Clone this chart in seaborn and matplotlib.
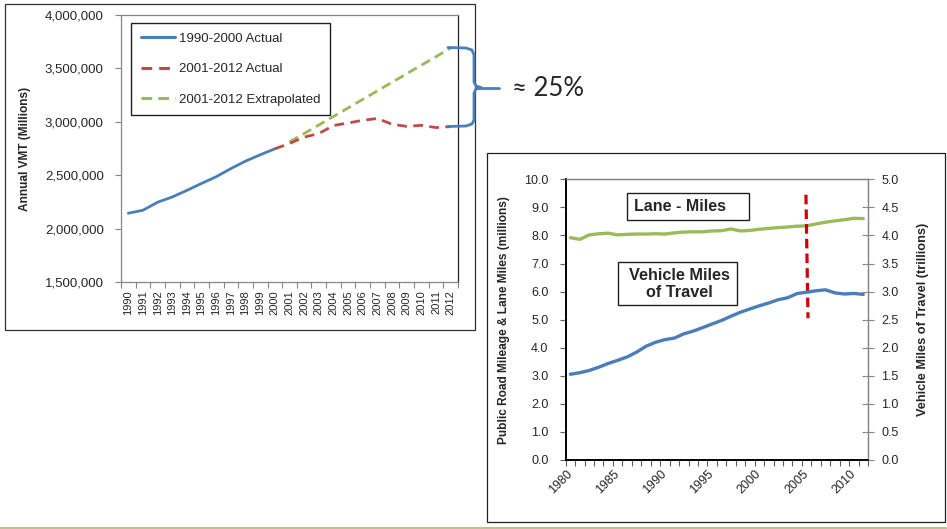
import matplotlib
matplotlib.use("Agg")
import matplotlib.pyplot as plt
import seaborn as sns
import pandas as pd
from matplotlib.lines import Line2D
from matplotlib.patches import Rectangle
from matplotlib.ticker import FuncFormatter, MultipleLocator, FixedLocator

# ---------------- data: left chart (annual VMT, millions) ----------------
years_9000 = [1990, 1991, 1992, 1993, 1994, 1995, 1996, 1997, 1998, 1999, 2000]
vmt_9000 = [2144000, 2172000, 2247000, 2296000, 2358000, 2423000, 2486000,
            2562000, 2632000, 2691000, 2747000]
years_0012 = [2000, 2001, 2002, 2003, 2004, 2005, 2006, 2007, 2008, 2009, 2010, 2011, 2012]
vmt_0012 = [2747000, 2797000, 2856000, 2890000, 2965000, 2989000, 3014000,
            3031000, 2977000, 2957000, 2967000, 2946000, 2955000]
years_extrap = [2001, 2002, 2003, 2004, 2005, 2006, 2007, 2008, 2009, 2010, 2011, 2012]
vmt_extrap = [2812000, 2890000, 2970000, 3050000, 3130000, 3210000, 3290000,
              3370000, 3450000, 3530000, 3610000, 3690000]
legend_labels = ["1990-2000 Actual", "2001-2012 Actual", "2001-2012 Extrapolated"]
left_year_ticks = list(range(1990, 2013))

# ---------------- data: right chart ----------------
years_r = list(range(1980, 2012))
lane_miles = [7.92, 7.86, 8.02, 8.06, 8.08, 8.02, 8.04, 8.05, 8.05, 8.06, 8.05,
              8.09, 8.12, 8.13, 8.13, 8.16, 8.17, 8.23, 8.16, 8.18, 8.22, 8.25,
              8.28, 8.30, 8.33, 8.34, 8.41, 8.47, 8.52, 8.56, 8.61, 8.60]
vmt_trillions = [1.527, 1.555, 1.595, 1.653, 1.720, 1.775, 1.835, 1.921, 2.026,
                 2.096, 2.144, 2.172, 2.247, 2.296, 2.358, 2.423, 2.486, 2.562,
                 2.632, 2.691, 2.747, 2.797, 2.856, 2.890, 2.965, 2.989, 3.014,
                 3.031, 2.977, 2.957, 2.967, 2.950]
marker_x = [2004.93, 2005.15]
marker_y = [9.45, 5.05]
right_year_ticks = [1980, 1985, 1990, 1995, 2000, 2005, 2010]

BLUE = "#4A7EBB"
RED = "#BE4B48"
GREEN = "#98B954"
GRAY = "#868686"

sns.set_style("white")
plt.rcParams["font.family"] = ["Liberation Sans", "DejaVu Sans"]

W, H = 947, 529
fig = plt.figure(figsize=(W / 100, H / 100), dpi=100)


def fx(x):
    return x / W


def fy(y):
    return 1 - y / H


def box(l, t, r, b):
    return [fx(l), fy(b), fx(r) - fx(l), fy(t) - fy(b)]


# ---------------- left chart ----------------
ax1 = fig.add_axes(box(121, 15, 458, 282))
d1 = pd.DataFrame({"year": years_9000, "vmt": vmt_9000})
d2 = pd.DataFrame({"year": years_0012, "vmt": vmt_0012})
d3 = pd.DataFrame({"year": years_extrap, "vmt": vmt_extrap})
sns.lineplot(data=d1, x="year", y="vmt", ax=ax1, color=BLUE, lw=2.0)
sns.lineplot(data=d3, x="year", y="vmt", ax=ax1, color=GREEN, lw=2.0)
ax1.lines[-1].set_dashes([3.5, 2.0])
sns.lineplot(data=d2, x="year", y="vmt", ax=ax1, color=RED, lw=2.0)
ax1.lines[-1].set_dashes([3.5, 2.3])

ax1.set_xlim(1989.5, 2012.5)
ax1.set_ylim(1500000, 4000000)
ax1.yaxis.set_major_locator(MultipleLocator(500000))
ax1.yaxis.set_major_formatter(FuncFormatter(lambda v, _: f"{int(round(v)):,}"))
ax1.xaxis.set_major_locator(FixedLocator(left_year_ticks))
ax1.set_xticklabels([str(y) for y in left_year_ticks], rotation=90, fontsize=8)
ax1.xaxis.set_minor_locator(FixedLocator([y - 0.5 for y in left_year_ticks] + [2012.5]))
ax1.tick_params(axis="x", which="major", length=0, pad=6)
ax1.tick_params(axis="x", which="minor", length=4, color=GRAY, width=0.8, direction="out", bottom=True)
ax1.tick_params(axis="y", which="major", length=4, color=GRAY, width=0.8, direction="out",
                labelsize=9.5, pad=8.4, left=True)
ax1.set_xlabel("")
ax1.set_ylabel("Annual VMT (Millions)", fontsize=8.6, fontweight="bold")
ax1.yaxis.set_label_coords((31 - 121) / 337, 0.5)
for s in ["left", "bottom", "top"]:
    ax1.spines[s].set_color(GRAY)
    ax1.spines[s].set_linewidth(0.9)
ax1.spines["right"].set_color("#202020")
ax1.spines["right"].set_linewidth(0.9)

handles = [Line2D([], [], color=BLUE, lw=2.2),
           Line2D([], [], color=RED, lw=2.2, dashes=[3.5, 2.3]),
           Line2D([], [], color=GREEN, lw=2.2, dashes=[3.5, 2.0])]
leg = ax1.legend(handles, legend_labels, loc="upper left",
                 bbox_to_anchor=((131 - 121) / 337, (282 - 23) / 267),
                 borderaxespad=0, frameon=True, fancybox=False, framealpha=1,
                 edgecolor="#202020", fontsize=9.5, handlelength=2.6,
                 handletextpad=0.35, labelspacing=1.38, borderpad=0.72)
leg.get_frame().set_linewidth(1.0)

# ---------------- right chart ----------------
ax2 = fig.add_axes(box(565.7, 179.3, 868, 460))
ax3 = ax2.twinx()
sns.lineplot(x=years_r, y=lane_miles, ax=ax2, color="#9BBB59", lw=2.4)
sns.lineplot(x=marker_x, y=marker_y, ax=ax2, color="#D00000", lw=2.3)
ax2.lines[-1].set_dashes([3.0, 1.6])
sns.lineplot(x=years_r, y=vmt_trillions, ax=ax3, color=BLUE, lw=2.4)

ax2.set_xlim(1979.5, 2011.5)
ax2.set_ylim(0, 10)
ax3.set_ylim(0, 5)
ax2.yaxis.set_major_locator(MultipleLocator(1))
ax3.yaxis.set_major_locator(MultipleLocator(0.5))
ax2.yaxis.set_major_formatter(FuncFormatter(lambda v, _: f"{v:.1f}"))
ax3.yaxis.set_major_formatter(FuncFormatter(lambda v, _: f"{v:.1f}"))
ax2.xaxis.set_major_locator(FixedLocator(right_year_ticks))
ax2.xaxis.set_minor_locator(FixedLocator([y - 0.5 for y in years_r] + [2011.5]))
ax2.set_xticklabels([str(y) for y in right_year_ticks], fontsize=9)
for lab in ax2.get_xticklabels():
    lab.set_rotation(45)
    lab.set_ha("right")
    lab.set_va("center")
    lab.set_rotation_mode("anchor")
ax2.tick_params(axis="x", which="major", length=0, pad=9)
ax2.tick_params(axis="x", which="minor", length=4, color="#606060", width=0.8,
                direction="out", bottom=True)
ax2.tick_params(axis="y", length=4, color="#606060", width=0.8, direction="out",
                labelsize=9, pad=8.4, left=True)
ax3.tick_params(axis="y", length=8, color=GRAY, width=0.8, direction="inout",
                labelsize=9, pad=5.5, right=True)
ax2.set_xlabel("")
ax2.set_ylabel("Public Road Mileage & Lane Miles (millions)", fontsize=8.6, fontweight="bold")
ax2.yaxis.set_label_coords((510 - 565.7) / 302.3, 0.5)
ax3.set_ylabel("Vehicle Miles of Travel (trillions)", fontsize=9.2, fontweight="bold",
               rotation=90)
ax3.yaxis.set_label_coords((917 - 565.7) / 302.3, 0.5)
for a in (ax2, ax3):
    a.spines["left"].set_color("black")
    a.spines["bottom"].set_color("black")
    a.spines["left"].set_linewidth(1.2)
    a.spines["bottom"].set_linewidth(1.2)
    a.spines["top"].set_color(GRAY)
    a.spines["right"].set_color(GRAY)
    a.spines["top"].set_linewidth(0.9)
    a.spines["right"].set_linewidth(0.9)

# text boxes in the right chart
fig.add_artist(Rectangle((fx(626.7), fy(220)), fx(749.3) - fx(626.7), fy(193.3) - fy(220),
                         transform=fig.transFigure, fill=False, edgecolor="#202020", lw=1.0))
fig.text(fx(634.3), fy(206.7), "Lane - Miles", fontsize=11.5, fontweight="bold",
         ha="left", va="center")
fig.add_artist(Rectangle((fx(618.3), fy(305.3)), fx(737.3) - fx(618.3), fy(262.3) - fy(305.3),
                         transform=fig.transFigure, fill=False, edgecolor="#202020", lw=1.0))
fig.text(fx(679.3), fy(284), "Vehicle Miles\nof Travel", fontsize=11.7, fontweight="bold",
         ha="center", va="center", linespacing=1.15)

# ---------------- frames, brace and annotation ----------------
fig.add_artist(Rectangle((fx(5), fy(330)), fx(475) - fx(5), fy(4) - fy(330),
                         transform=fig.transFigure, fill=False, edgecolor="#303030", lw=0.9))
fig.add_artist(Rectangle((fx(487), fy(522)), fx(945) - fx(487), fy(153) - fy(522),
                         transform=fig.transFigure, fill=False, edgecolor="#202020", lw=0.9))
fig.add_artist(Rectangle((0, fy(529.5)), 1, fy(526.5) - fy(529.5),
                         transform=fig.transFigure, facecolor="#C4BC96", edgecolor="none"))

brace_px = [(448, 47.5), (466, 48), (472, 50), (474, 55), (474, 82), (476, 86), (481, 87.5),
            (476, 89), (474, 93), (474, 120), (472, 124), (466, 126), (448, 126.5)]
fig.add_artist(Line2D([fx(p[0]) for p in brace_px], [fy(p[1]) for p in brace_px],
                      transform=fig.transFigure, color=BLUE, lw=2.0,
                      solid_joinstyle="round", solid_capstyle="round"))
fig.add_artist(Line2D([fx(476), fx(499)], [fy(87.5), fy(87.5)],
                      transform=fig.transFigure, color=BLUE, lw=2.0, solid_capstyle="round"))
fig.text(fx(512), fy(88), "≈ 25%", fontsize=18.5, ha="left", va="center",
         family=["Lato", "DejaVu Sans"])

fig.savefig("out.png", dpi=100)
